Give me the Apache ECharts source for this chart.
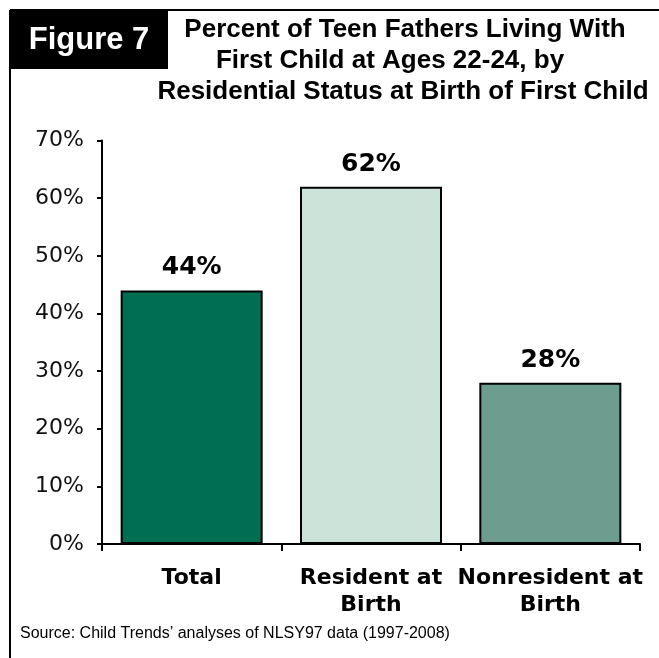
<!DOCTYPE html>
<html>
<head>
<meta charset="utf-8">
<script src="https://cdn.jsdelivr.net/npm/echarts@6/dist/echarts.min.js"></script>
<style>
html,body{margin:0;padding:0;background:#fff;}
#chart{width:659px;height:658px;}
</style>
</head>
<body>
<div id="chart"></div>
<script>
const categories = ['Total', 'Resident at\nBirth', 'Nonresident at\nBirth'];
const values = [44, 62, 28];
const barColors = ['#006F51', '#CCE3D9', '#6D9D8F'];
const titleLines = [
  'Percent of Teen Fathers Living With',
  'First Child at Ages 22-24, by',
  'Residential Status at Birth of First Child'
];
const figureLabel = 'Figure 7';
const sourceText = 'Source: Child Trends\u2019 analyses of NLSY97 data (1997-2008)';

const chart = echarts.init(document.getElementById('chart'), null, {renderer: 'canvas'});

const titleX = [405, 390, 403];
const titleY = [30, 61, 92];

const graphics = [
  {type: 'line', shape: {x1: 10, y1: 10, x2: 659, y2: 10}, style: {stroke: '#000', lineWidth: 2}, silent: true},
  {type: 'line', shape: {x1: 10, y1: 10, x2: 10, y2: 658}, style: {stroke: '#000', lineWidth: 2}, silent: true},
  {type: 'rect', shape: {x: 10, y: 10, width: 158, height: 59}, style: {fill: '#000'}, silent: true},
  {type: 'text', x: 89, y: 40, style: {text: figureLabel, fill: '#fff', font: 'bold 31px "Liberation Sans", Arial, sans-serif', textAlign: 'center', textVerticalAlign: 'middle'}, silent: true},
  {type: 'text', x: 20, y: 634, style: {text: sourceText, fill: '#000', font: '16px "Liberation Sans", Arial, sans-serif', textAlign: 'left', textVerticalAlign: 'middle'}, silent: true}
];
titleLines.forEach((t, i) => {
  graphics.push({type: 'text', x: titleX[i], y: titleY[i], style: {text: t, fill: '#000', font: 'bold 26px "Liberation Sans", Arial, sans-serif', textAlign: 'center', textVerticalAlign: 'middle'}, silent: true});
});

const option = {
  animation: false,
  backgroundColor: '#fff',
  grid: {left: 102, right: 19, top: 140.6, bottom: 114, containLabel: false},
  xAxis: {
    type: 'category',
    data: categories,
    axisLine: {show: true, lineStyle: {color: '#000', width: 2}},
    axisTick: {show: true, alignWithLabel: false, length: 7, lineStyle: {color: '#000', width: 2}},
    axisLabel: {
      interval: 0,
      margin: 21,
      color: '#000',
      fontFamily: '"DejaVu Sans", Verdana, sans-serif',
      fontWeight: 'bold',
      fontSize: 22,
      lineHeight: 27
    },
    splitLine: {show: false}
  },
  yAxis: {
    type: 'value',
    min: 0,
    max: 70,
    interval: 10,
    axisLine: {show: true, lineStyle: {color: '#000', width: 2}},
    axisTick: {show: true, length: 5, lineStyle: {color: '#000', width: 2}},
    axisLabel: {
      formatter: '{value}%',
      margin: 18,
      color: '#111',
      fontFamily: '"DejaVu Sans", Verdana, sans-serif',
      fontSize: 22
    },
    splitLine: {show: false}
  },
  series: [{
    type: 'bar',
    barWidth: 142,
    data: values.map((v, i) => ({value: v, itemStyle: {color: barColors[i]}})),
    itemStyle: {borderColor: '#000', borderWidth: 2},
    label: {
      show: true,
      position: 'top',
      distance: 10,
      formatter: '{c}%',
      color: '#000',
      fontFamily: '"DejaVu Sans", Verdana, sans-serif',
      fontWeight: 'bold',
      fontSize: 25
    },
    z: 1
  }],
  graphic: graphics
};
chart.setOption(option);
</script>
</body>
</html>
